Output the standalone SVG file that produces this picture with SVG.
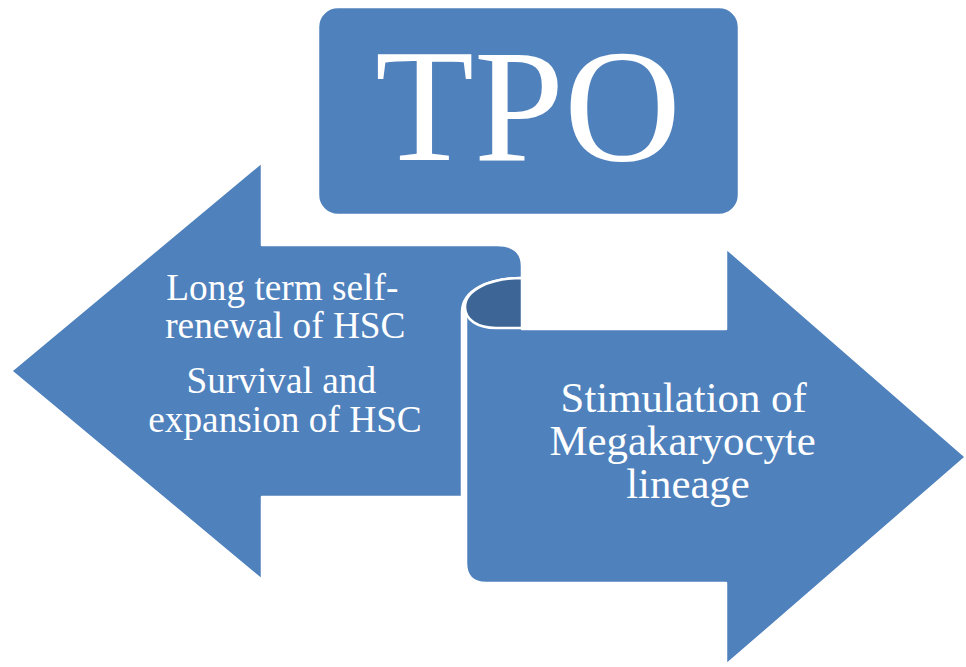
<svg xmlns="http://www.w3.org/2000/svg" width="966" height="667" viewBox="0 0 966 667">
  <style>
    .shape { fill: #4F81BD; stroke: #FFFFFF; stroke-width: 2.5; stroke-linejoin: round; }
    .fold { fill: #3D6696; stroke: #FFFFFF; stroke-width: 2.5; stroke-linejoin: round; }
    .label { font-family: "Liberation Serif", "Times New Roman", serif; fill: #FFFFFF; text-anchor: middle; }
  </style>
  <rect width="966" height="667" fill="#FFFFFF"/>

  <!-- header box -->
  <g id="tpo">
    <rect class="shape" x="318" y="7" width="421" height="208" rx="20" ry="20"/>
    <text class="label" x="528" y="160" font-size="162">TPO</text>
  </g>

  <!-- left-pointing arrow whose shaft rolls over at the right end -->
  <g id="left-arrow">
    <path class="shape" d="M11,371 L262,162 L262,245 L497,245 Q522,245 522,266 L522,278 C488,278 462,290 462,312 L462,497 L262,497 L262,580 Z"/>
    <text class="label" font-size="37.3">
      <tspan x="287" y="300">Long term self-</tspan>
      <tspan x="290" y="338">renewal of HSC</tspan>
      <tspan x="286" y="393">Survival and</tspan>
      <tspan x="285" y="432">expansion of HSC</tspan>
    </text>
  </g>

  <!-- right-pointing arrow unrolling from the fold -->
  <g id="right-arrow">
    <path class="shape" d="M466,312 C466,292 490,278 522,278 L522,329 L726,329 L726,248 L966,457 L726,665 L726,583 L486,583 Q466,583 466,563 Z"/>
    <path class="fold" d="M522,278 C490,278 465,290 465,307 C465,320 478,328 496,328 L522,328 Z"/>
    <text class="label" font-size="42.8">
      <tspan x="689" y="412">Stimulation of</tspan>
      <tspan x="688" y="455">Megakaryocyte</tspan>
      <tspan x="688" y="498">lineage</tspan>
    </text>
  </g>

  <g id="connectors"/>
</svg>
